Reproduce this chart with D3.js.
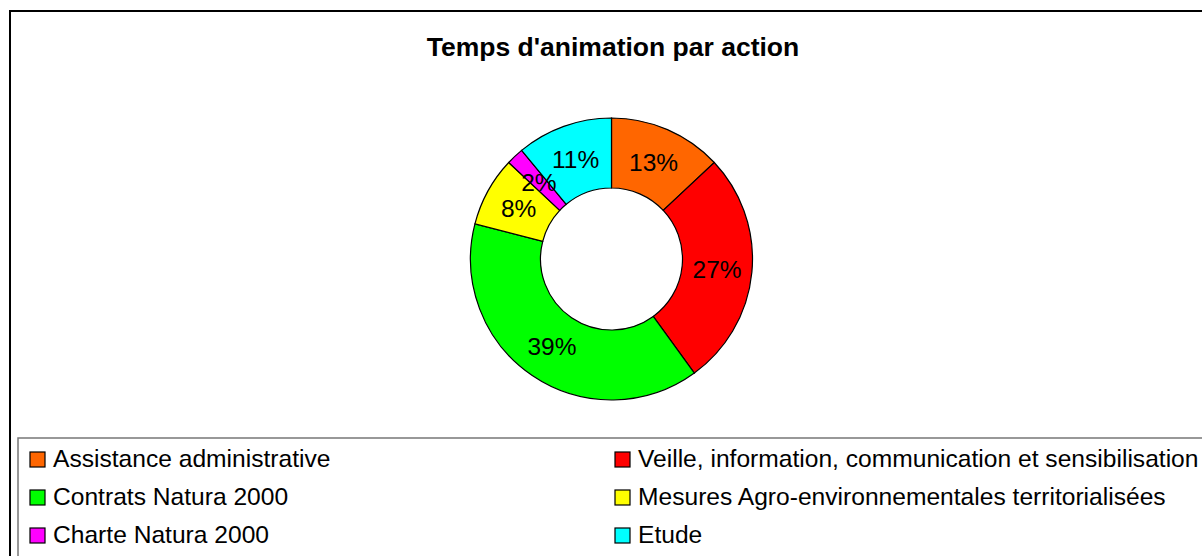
<!DOCTYPE html>
<html>
<head>
	<meta charset="utf-8">
	<script src="https://d3js.org/d3.v7.min.js"></script>
	<style>
		body { margin: 0; background: #fff; }
		text { font-family: "Liberation Sans", Arial, sans-serif; }
	</style>
</head>
<body>
	<div class="chart"></div>
	<script>
		// chart data
		var categories = ["Assistance administrative", "Veille, information, communication et sensibilisation",
			"Contrats Natura 2000", "Mesures Agro-environnementales territorialisées",
			"Charte Natura 2000", "Etude"];
		var values = [13, 27, 39, 8, 2, 11];
		var colors = ["#FF6600", "#FF0000", "#00FF00", "#FFFF00", "#FF00FF", "#00FFFF"];
		var title = "Temps d'animation par action";

		var w = 1202, h = 556;
		var cx = 611.5, cy = 259, rOut = 141, rIn = 71;

		var svg = d3.select(".chart")
			.append("svg")
			.attr("width", w)
			.attr("height", h);

		// outer frame (runs off the right and bottom edge)
		svg.append("rect")
			.attr("x", 10).attr("y", 11)
			.attr("width", 1220).attr("height", 600)
			.attr("fill", "#fff")
			.attr("stroke", "#000")
			.attr("stroke-width", 2);

		svg.append("text")
			.attr("x", 613).attr("y", 56)
			.attr("text-anchor", "middle")
			.attr("font-size", "26.5px")
			.attr("font-weight", "bold")
			.text(title);

		// donut
		var pie = d3.pie().sort(null).value(function(d) { return d; });
		var arc = d3.arc().innerRadius(rIn).outerRadius(rOut);
		var labelArc = d3.arc().innerRadius((rIn + rOut) / 2).outerRadius((rIn + rOut) / 2);
		var total = d3.sum(values);

		var g = svg.append("g")
			.attr("transform", "translate(" + cx + "," + cy + ")");

		g.selectAll("path")
			.data(pie(values))
			.enter()
			.append("path")
			.attr("d", arc)
			.attr("fill", function(d, i) { return colors[i]; })
			.attr("stroke", "#000")
			.attr("stroke-width", 1.2);

		g.selectAll("text.pct")
			.data(pie(values))
			.enter()
			.append("text")
			.attr("class", "pct")
			.attr("transform", function(d) { return "translate(" + labelArc.centroid(d) + ")"; })
			.attr("dy", "0.36em")
			.attr("text-anchor", "middle")
			.attr("font-size", "24.5px")
			.attr("fill", "#000")
			.text(function(d) { return Math.round(d.data / total * 100) + "%"; });

		// legend box
		svg.append("rect")
			.attr("x", 18).attr("y", 438)
			.attr("width", 1200).attr("height", 140)
			.attr("fill", "#fff")
			.attr("stroke", "#777")
			.attr("stroke-width", 1.5);

		var leg = svg.selectAll("g.leg")
			.data(categories)
			.enter()
			.append("g")
			.attr("class", "leg")
			.attr("transform", function(d, i) {
				var col = i % 2, row = Math.floor(i / 2);
				return "translate(" + (col == 0 ? 30 : 615) + "," + (452 + row * 38) + ")";
			});
		leg.append("rect")
			.attr("width", 15).attr("height", 15)
			.attr("fill", function(d, i) { return colors[i]; })
			.attr("stroke", "#000")
			.attr("stroke-width", 1.2);
		leg.append("text")
			.attr("x", 23).attr("y", 15)
			.attr("font-size", "24.6px")
			.text(function(d) { return d; });
	</script>
</body>
</html>
